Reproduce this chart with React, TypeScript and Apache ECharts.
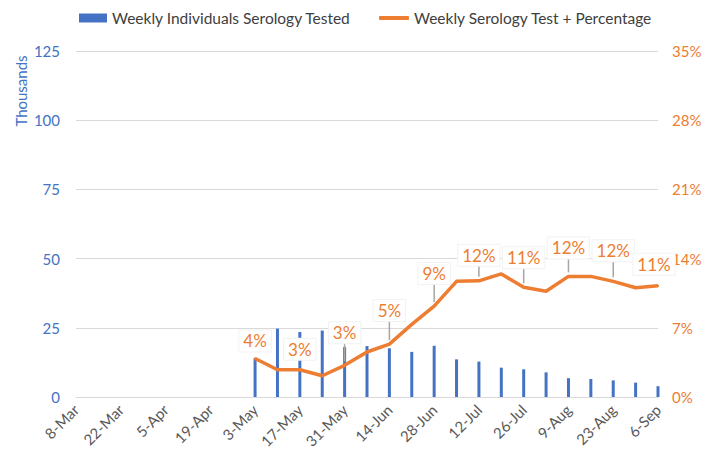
import React, { useEffect, useRef } from 'react';
import * as echarts from 'echarts';

const categories = [
  '8-Mar', '15-Mar', '22-Mar', '29-Mar', '5-Apr', '12-Apr', '19-Apr', '26-Apr',
  '3-May', '10-May', '17-May', '24-May', '31-May', '7-Jun', '14-Jun', '21-Jun',
  '28-Jun', '5-Jul', '12-Jul', '19-Jul', '26-Jul', '2-Aug', '9-Aug', '16-Aug',
  '23-Aug', '30-Aug', '6-Sep',
];

// Weekly individuals serology tested, in thousands
const testedThousands = [
  null, null, null, null, null, null, null, null,
  14.0, 24.7, 23.5, 24.0, 18.0, 18.4, 17.6, 16.3,
  18.5, 13.6, 12.8, 10.6, 10.0, 8.9, 6.8, 6.5,
  6.0, 5.2, 3.9,
];

// Weekly serology test positive percentage
const positivePct = [
  null, null, null, null, null, null, null, null,
  3.9, 2.75, 2.75, 2.15, 3.2, 4.55, 5.35, 7.35,
  9.2, 11.7, 11.75, 12.45, 11.1, 10.7, 12.2, 12.2,
  11.7, 11.05, 11.25,
];

const labeledWeeks = ['3-May', '17-May', '31-May', '14-Jun', '28-Jun', '12-Jul', '26-Jul', '9-Aug', '23-Aug', '6-Sep'];
const weeksWithLeader = ['31-May', '14-Jun', '28-Jun', '12-Jul', '26-Jul', '9-Aug', '23-Aug'];

const BAR_NAME = 'Weekly Individuals Serology Tested';
const LINE_NAME = 'Weekly Serology Test + Percentage';

const BLUE = '#4472C4';
const ORANGE = '#ED7D31';
const FONT = 'Lato';

// label distance above point (style only)
const labelGap: Record<string, number> = {
  '3-May': 6, '17-May': 9, '31-May': 21, '14-Jun': 22, '28-Jun': 21,
  '12-Jul': 14, '26-Jul': 18, '9-Aug': 17, '23-Aug': 19, '6-Sep': 10,
};
const labelShift: Record<string, number> = { '6-Sep': -4 };

export default function App() {
  const ref = useRef<HTMLDivElement>(null);

  useEffect(() => {
    if (!ref.current) return;
    const chart = echarts.init(ref.current, null, { renderer: 'svg' });

    const lineData = positivePct.map((v, i) => {
      const cat = categories[i];
      const show = labeledWeeks.includes(cat) && v != null;
      return {
        value: v,
        label: { show, distance: labelGap[cat] ?? 5, offset: [labelShift[cat] ?? 0, 0] },
      };
    });

    const leaderData = categories
      .map((c, i) => [i, positivePct[i]])
      .filter(([i, v]) => v != null && weeksWithLeader.includes(categories[i as number]));

    chart.setOption({
      animation: false,
      backgroundColor: '#ffffff',
      textStyle: { fontFamily: FONT },
      legend: [
        {
          data: [{ name: BAR_NAME, icon: 'rect' }],
          left: 74,
          top: 5,
          itemWidth: 28,
          itemHeight: 9,
          textStyle: { color: '#404040', fontSize: 15.5, fontFamily: FONT },
        },
        {
          data: [{ name: LINE_NAME, icon: 'roundRect' }],
          left: 374,
          top: 5,
          itemWidth: 30,
          itemHeight: 4,
          textStyle: { color: '#404040', fontSize: 15.5, fontFamily: FONT },
        },
      ],
      grid: { left: 76, right: 60, top: 51, bottom: 63 },
      graphic: [
        {
          type: 'text',
          x: 21,
          y: 91,
          rotation: Math.PI / 2,
          style: {
            text: 'Thousands',
            fill: BLUE,
            font: `15px ${FONT}`,
            align: 'center',
            verticalAlign: 'middle',
          },
        },
      ],
      xAxis: {
        type: 'category',
        data: categories,
        boundaryGap: false,
        axisLine: { lineStyle: { color: '#D9D9D9', width: 1 } },
        axisTick: { show: false },
        axisLabel: {
          rotate: 45,
          interval: 1,
          color: '#595959',
          fontSize: 15,
          fontFamily: FONT,
          margin: 10,
        },
      },
      yAxis: [
        {
          type: 'value',
          min: 0,
          max: 125,
          interval: 25,
          axisLine: { show: false },
          axisTick: { show: false },
          axisLabel: { color: BLUE, fontSize: 15, fontFamily: FONT, margin: 16 },
          splitLine: { lineStyle: { color: '#D9D9D9', width: 1 } },
        },
        {
          type: 'value',
          min: 0,
          max: 35,
          interval: 7,
          axisLine: { show: false },
          axisTick: { show: false },
          axisLabel: { color: ORANGE, fontSize: 15, fontFamily: FONT, margin: 14, formatter: '{value}%' },
          splitLine: { show: false },
        },
      ],
      series: [
        {
          name: BAR_NAME,
          type: 'bar',
          yAxisIndex: 0,
          data: testedThousands,
          barWidth: 3,
          itemStyle: { color: BLUE },
          z: 2,
        },
        {
          name: 'leaders',
          type: 'custom',
          yAxisIndex: 1,
          data: leaderData,
          encode: { x: 0, y: 1 },
          silent: true,
          z: 3,
          renderItem: (params: any, api: any) => {
            const idx = api.value(0);
            const p = api.coord([idx, api.value(1)]);
            const gap = labelGap[categories[idx]] ?? 10;
            return {
              type: 'line',
              shape: { x1: p[0], y1: p[1] - 4, x2: p[0], y2: p[1] - gap - 3 },
              style: { stroke: '#A6A6A6', lineWidth: 1.5 },
            };
          },
        },
        {
          name: LINE_NAME,
          type: 'line',
          yAxisIndex: 1,
          data: lineData,
          symbol: 'circle',
          symbolSize: 2,
          showSymbol: true,
          itemStyle: { color: ORANGE },
          lineStyle: { color: ORANGE, width: 3.5 },
          z: 4,
          label: {
            position: 'top',
            color: ORANGE,
            fontSize: 17,
            fontFamily: FONT,
            backgroundColor: '#ffffff',
            borderColor: '#F2F2F2',
            borderWidth: 1,
            padding: [2, 4],
            formatter: (p: any) => `${Math.round(p.value)}%`,
          },
        },
      ],
    });

    return () => chart.dispose();
  }, []);

  return (
    <div
      ref={ref}
      style={{ position: 'absolute', left: 0, top: 0, width: 718, height: 460, background: '#fff' }}
    />
  );
}
